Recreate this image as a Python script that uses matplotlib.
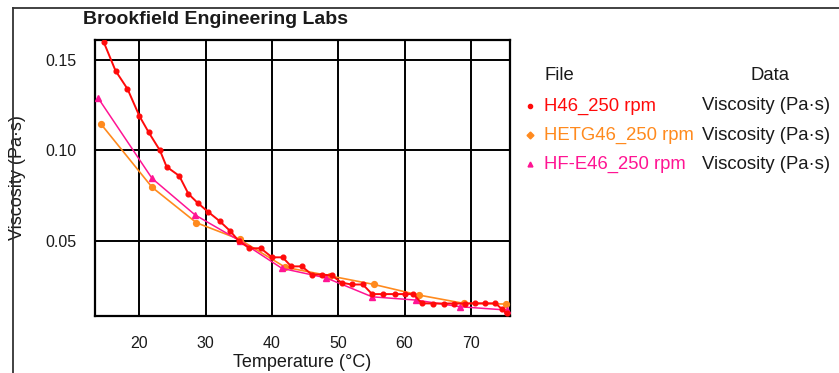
import matplotlib
matplotlib.use("Agg")
import matplotlib.pyplot as plt
from matplotlib.lines import Line2D
from matplotlib.ticker import FormatStrFormatter

plt.rcParams['font.family'] = ['Liberation Sans', 'DejaVu Sans']

# Viscosity vs temperature, three oils at 250 rpm
h46_temp = [14.6, 16.4, 18.2, 20.0, 21.4, 23.1, 24.1, 26.0, 27.4, 28.8, 30.4, 32.1,
            33.7, 35.0, 36.6, 38.3, 40.0, 41.6, 42.9, 44.5, 46.0, 47.5, 49.0, 50.5,
            52.0, 53.7, 55.1, 56.8, 58.6, 60.1, 61.3, 62.6, 64.3, 65.9, 67.5, 69.1,
            70.6, 72.1, 73.7, 74.7, 75.4]
h46_visc = [0.160, 0.144, 0.134, 0.119, 0.110, 0.100, 0.091, 0.086, 0.076, 0.071,
            0.066, 0.061, 0.0555, 0.050, 0.046, 0.046, 0.041, 0.041, 0.036, 0.036,
            0.0315, 0.0315, 0.031, 0.027, 0.026, 0.026, 0.0207, 0.0207, 0.0207,
            0.0207, 0.0207, 0.0156, 0.0155, 0.0155, 0.0155, 0.0155, 0.0156, 0.0156,
            0.0156, 0.0124, 0.0100]

hetg46_temp = [14.2, 21.9, 28.6, 35.1, 42.0, 48.8, 55.4, 62.1, 68.9, 75.3]
hetg46_visc = [0.1146, 0.0797, 0.0601, 0.0509, 0.0355, 0.0307, 0.0260, 0.0202,
               0.0156, 0.0152]

hfe46_temp = [13.8, 21.9, 28.4, 35.2, 41.5, 48.2, 55.1, 61.7, 68.4, 75.4]
hfe46_visc = [0.1288, 0.0846, 0.0644, 0.0500, 0.0349, 0.0296, 0.0192, 0.0174,
              0.0137, 0.0119]

series_names = ["H46_250 rpm", "HETG46_250 rpm", "HF-E46_250 rpm"]
data_names = ["Viscosity (Pa·s)", "Viscosity (Pa·s)", "Viscosity (Pa·s)"]
x_ticks = [20, 30, 40, 50, 60, 70]
y_ticks = [0.05, 0.10, 0.15]

RED = "#ff0a0a"
ORANGE = "#ff8a1e"
PINK = "#ff1493"
TXT = "#1a1a1a"

W, H = 839, 373
fig = plt.figure(figsize=(W / 100, H / 100), dpi=100)
fig.patch.set_facecolor("white")

AX_L, AX_R, AX_T, AX_B = 95, 510, 40, 316
ax = fig.add_axes([AX_L / W, 1 - AX_B / H, (AX_R - AX_L) / W, (AX_B - AX_T) / H])

ax.plot(hetg46_temp, hetg46_visc, color=ORANGE, lw=1.2, marker="o", ms=4.2,
        mec=ORANGE, mfc=ORANGE, zorder=3)
ax.plot(hfe46_temp, hfe46_visc, color=PINK, lw=1.1, marker="^", ms=4.5,
        mec=PINK, mfc=PINK, zorder=4)
ax.plot(h46_temp, h46_visc, color=RED, lw=1.4, marker="o", ms=3.4,
        mec=RED, mfc=RED, zorder=5)

ax.set_xlim(13.3, 75.9)
ax.set_ylim(0.0086, 0.161)
ax.set_xticks(x_ticks)
ax.set_yticks(y_ticks)
ax.yaxis.set_major_formatter(FormatStrFormatter("%.2f"))
ax.tick_params(length=0, labelsize=11.5, colors=TXT)
ax.tick_params(axis="x", pad=14.5)
ax.tick_params(axis="y", pad=13.5)
ax.grid(True, color="black", lw=1.4, zorder=1)
ax.set_axisbelow(True)
for sp in ax.spines.values():
    sp.set_color("black")
    sp.set_linewidth(1.6)

ax.set_xlabel("Temperature (°C)", fontsize=13, color=TXT)
ax.set_ylabel("Viscosity (Pa·s)", fontsize=13, color=TXT)
# pin the axis labels to fixed pixel positions
ax.yaxis.set_label_coords((26 - AX_L) / (AX_R - AX_L), 0.5)
ax.xaxis.set_label_coords(0.5, -(354 - AX_B) / (AX_B - AX_T))

# chart title
fig.text(83 / W, 1 - 20 / H, "Brookfield Engineering Labs", fontsize=14,
         fontweight="bold", color=TXT, ha="left", va="center")

# outer frame of the chart (left and top edges)
fig.add_artist(Line2D([13 / W, 13 / W], [0, 1 - 8 / H], color="#333333", lw=1.3))
fig.add_artist(Line2D([13 / W, 1], [1 - 8 / H, 1 - 8 / H], color="#333333", lw=1.3))

# legend table
LEG_FS = 13.3
fig.text(544 / W, 1 - 75 / H, "File", fontsize=LEG_FS, color=TXT, ha="left", va="center")
fig.text(750 / W, 1 - 75 / H, "Data", fontsize=LEG_FS, color=TXT, ha="left", va="center")
colors = [RED, ORANGE, PINK]
markers = [("o", 3.0), ("D", 3.5), ("^", 3.5)]
rows_y = [106, 135, 164]
for name, dname, c, (m, ms), yy in zip(series_names, data_names, colors, markers, rows_y):
    yf = 1 - yy / H
    fig.add_artist(Line2D([530 / W], [yf], marker=m, ms=ms, color=c, mec=c, mfc=c, lw=0))
    fig.text(544 / W, yf, name, fontsize=LEG_FS, color=c, ha="left", va="center")
    fig.text(702 / W, yf, dname, fontsize=LEG_FS, color=TXT, ha="left", va="center")

fig.savefig("out.png", dpi=100)
